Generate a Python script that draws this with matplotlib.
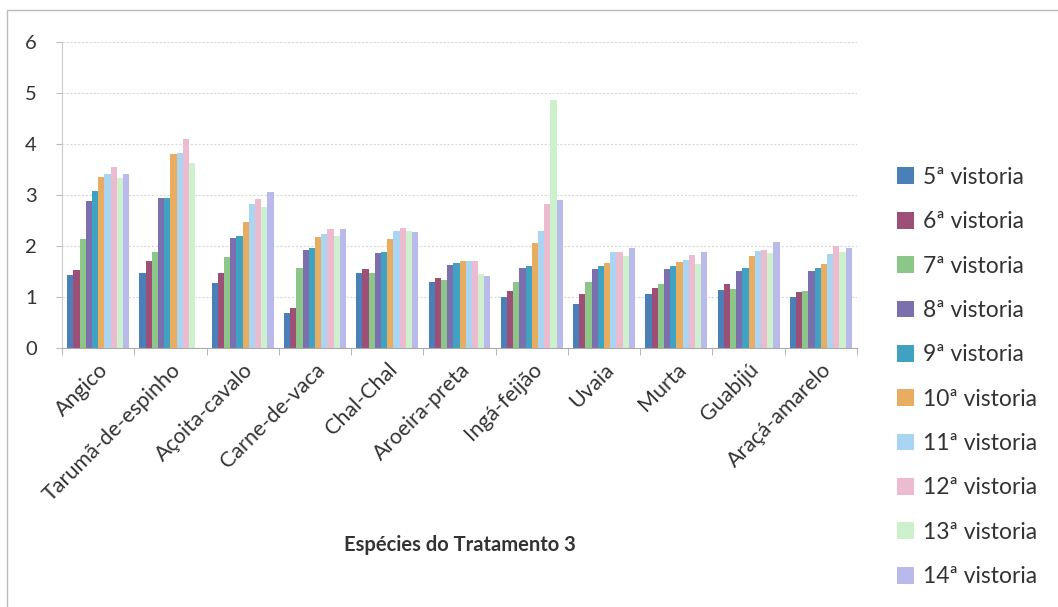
import matplotlib
matplotlib.use("Agg")
import matplotlib.pyplot as plt
import matplotlib.transforms as mtransforms
from matplotlib.patches import Rectangle
import numpy as np

plt.rcParams['font.family'] = ['Lato', 'DejaVu Sans']

especies = ['Angico', 'Tarumã-de-espinho', 'Açoita-cavalo', 'Carne-de-vaca', 'Chal-Chal',
            'Aroeira-preta', 'Ingá-feijão', 'Uvaia', 'Murta', 'Guabijú', 'Araçá-amarelo']

vistorias = ['5ª vistoria', '6ª vistoria', '7ª vistoria', '8ª vistoria', '9ª vistoria',
             '10ª vistoria', '11ª vistoria', '12ª vistoria', '13ª vistoria', '14ª vistoria']

# one list per vistoria, one value per species
v5 = [1.44, 1.47, 1.27, 0.70, 1.48, 1.29, 1.01, 0.87, 1.07, 1.14, 1.01]
v6 = [1.53, 1.71, 1.47, 0.78, 1.55, 1.37, 1.12, 1.06, 1.18, 1.25, 1.10]
v7 = [2.13, 1.88, 1.79, 1.58, 1.48, 1.34, 1.29, 1.29, 1.26, 1.16, 1.13]
v8 = [2.88, 2.94, 2.15, 1.92, 1.87, 1.63, 1.57, 1.55, 1.55, 1.52, 1.52]
v9 = [3.08, 2.94, 2.19, 1.96, 1.89, 1.66, 1.62, 1.62, 1.62, 1.57, 1.57]
v10 = [3.36, 3.80, 2.48, 2.17, 2.14, 1.70, 2.07, 1.66, 1.68, 1.80, 1.64]
v11 = [3.42, 3.83, 2.82, 2.23, 2.30, 1.70, 2.30, 1.89, 1.73, 1.90, 1.85]
v12 = [3.54, 4.09, 2.92, 2.33, 2.36, 1.70, 2.82, 1.89, 1.82, 1.92, 2.00]
v13 = [3.34, 3.62, 2.76, 2.19, 2.30, 1.45, 4.85, 1.81, 1.65, 1.86, 1.89]
v14 = [3.41, np.nan, 3.05, 2.34, 2.27, 1.42, 2.90, 1.96, 1.88, 2.09, 1.96]

series = [v5, v6, v7, v8, v9, v10, v11, v12, v13, v14]

cores = ['#4a7fb8', '#9e4f78', '#8cc689', '#7c6fae', '#3fa2c3',
         '#e9ad62', '#a9d5f2', '#edbbd0', '#cdf1cd', '#b9b9ec']

fig = plt.figure(figsize=(10.58, 6.07), dpi=100)
ax = fig.add_axes([62 / 1058, 1 - 348.3 / 607, 795 / 1058, 306.6 / 607])

x = np.arange(len(especies))
w = 0.0857
for i, (vals, cor, nome) in enumerate(zip(series, cores, vistorias)):
    ax.bar(x - 0.5 + 0.5 * (1 - w * 10) + w * (i + 0.5), vals, width=w,
           color=cor, label=nome, linewidth=0)

ax.set_xlim(-0.5, len(especies) - 0.5)
ax.set_ylim(0, 6)
ax.set_yticks(range(0, 7))
ax.yaxis.grid(True, color='#d8d8d8', linestyle=(0, (2, 1.5)), linewidth=0.8)
ax.set_axisbelow(True)

ax.set_xticks(x)
ax.set_xticklabels(especies, rotation=45, ha='right', rotation_mode='anchor',
                   fontsize=15.5, color='#333333')
shift = mtransforms.ScaledTranslation(-9 / 100, 5 / 100, fig.dpi_scale_trans)
for lbl in ax.get_xticklabels():
    lbl.set_transform(lbl.get_transform() + shift)
ax.set_xticks(np.arange(-0.5, len(especies)), minor=True)
ax.tick_params(axis='x', which='major', length=0, pad=8)
ax.tick_params(axis='x', which='minor', length=5, color='#aaaaaa', direction='out')
ax.tick_params(axis='y', labelsize=14.5, length=4, color='#bbbbbb', labelcolor='#333333', pad=14)

for s in ['top', 'right']:
    ax.spines[s].set_visible(False)
ax.spines['left'].set_color('#cccccc')
ax.spines['bottom'].set_color('#aaaaaa')

ax.set_xlabel('Espécies do Tratamento 3', fontsize=14.5, fontweight='bold',
              color='#333333')
ax.xaxis.set_label_coords(0.5, -0.61)

ax.legend(loc='center left', bbox_to_anchor=(876 / 1058, 1 - 377 / 607),
          bbox_transform=fig.transFigure, frameon=False, fontsize=16.5,
          handlelength=0.75, handleheight=0.75, handletextpad=0.4,
          labelspacing=1.02, labelcolor='#333333')

fig.patches.append(Rectangle((7 / 1058, -0.1), 1.2, 1 - 10 / 607 + 0.1,
                             transform=fig.transFigure, fill=False,
                             edgecolor='#bbbbbb', linewidth=1))

fig.savefig('out.png', dpi=100)
